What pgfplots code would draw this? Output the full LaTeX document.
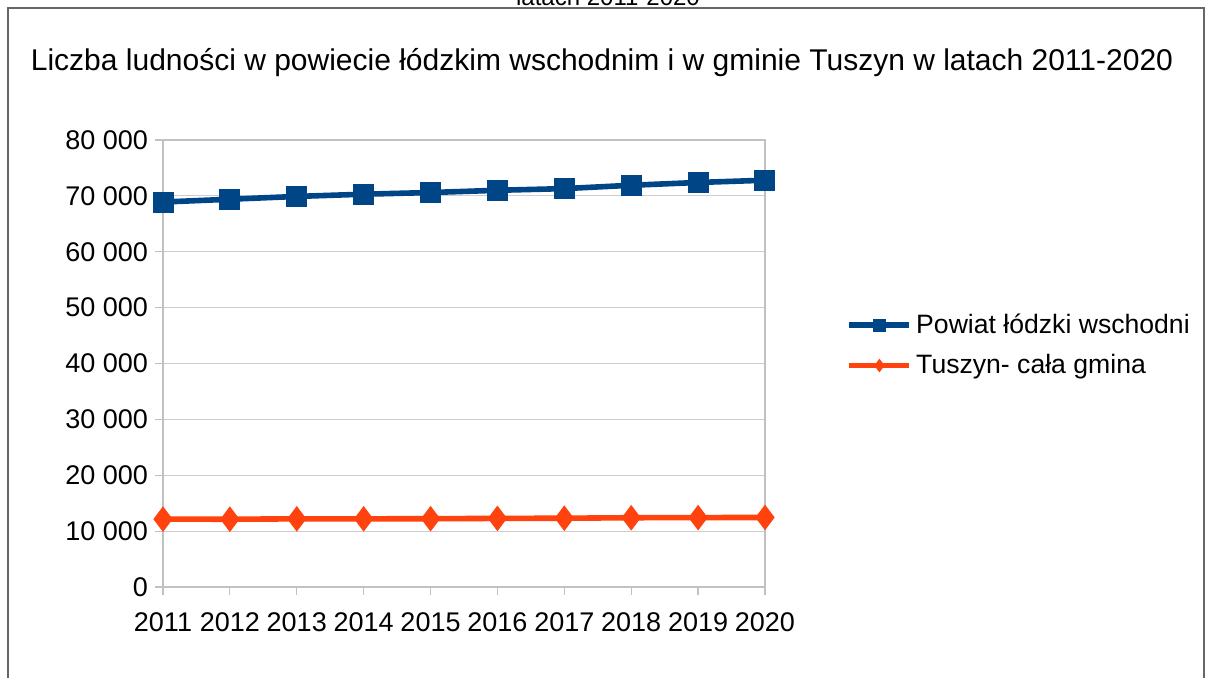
\documentclass[border=0pt]{standalone}
\usepackage{pgfplots}
\pgfplotsset{compat=1.18}
\usepackage{fontspec}
\setmainfont{Liberation Sans}
\definecolor{cblue}{RGB}{0,69,134}
\definecolor{corange}{RGB}{255,66,14}
\definecolor{gridgray}{RGB}{205,205,205}
\begin{document}
\begin{tikzpicture}[x=0.5pt,y=0.5pt]
\useasboundingbox (0,0) rectangle (1206,677);
\begin{scope}
\clip (0,0) rectangle (1206,677);
\draw[gray!80!black, line width=0.6pt] (8,-20) -- (8,669) -- (1204,669) -- (1204,-20);
\node[anchor=base, font=\fontsize{12}{14}\selectfont] at (608,672) {latach 2011-2020};
\end{scope}
\node[anchor=base, font=\fontsize{15}{18}\selectfont] at (602,607) {Liczba ludności w powiecie łódzkim wschodnim i w gminie Tuszyn w latach 2011-2020};
\begin{axis}[
  at={(81.5pt,45pt)}, anchor=south west,
  scale only axis, width=301pt, height=223.5pt,
  xmin=2011, xmax=2020, ymin=0, ymax=80000,
  xtick={2011,...,2020},
  ytick={0,10000,...,80000},
  scaled y ticks=false,
  yticklabels={0,10 000,20 000,30 000,40 000,50 000,60 000,70 000,80 000},
  xticklabel style={/pgf/number format/1000 sep=},
  /pgf/number format/assume math mode=true,
  tick label style={font=\fontsize{13.5}{16}\selectfont},
  ymajorgrids, grid style={gridgray, line width=0.6pt},
  axis line style={gridgray!85!gray, line width=0.6pt},
  tick style={gridgray!85!gray, line width=0.6pt},
  tick align=outside, major tick length=4pt,
  xtick pos=bottom, ytick pos=left,
  xticklabel shift=5.5pt, yticklabel shift=0pt,
  legend style={draw=none, fill=none, at={(1.125,0.63)}, anchor=north west,
    font=\fontsize{13.3}{16}\selectfont, row sep=5pt, legend cell align=left},
  legend image code/.code={\draw[#1, mark size=3pt, mark repeat=2, mark phase=2] plot coordinates {(0pt,0pt) (15pt,0pt) (30pt,0pt)};},
]
\addplot[cblue, line width=2.8pt, mark=square*, mark size=5pt, mark options={solid, line width=0.5pt}] coordinates {
(2011,68900) (2012,69400) (2013,69900) (2014,70300) (2015,70600)
(2016,71000) (2017,71300) (2018,71900) (2019,72400) (2020,72800)};
\addlegendentry{Powiat łódzki wschodni}
\addplot[corange, line width=2.8pt, mark=diamond*, mark size=6pt, mark options={solid, line width=0.5pt}] coordinates {
(2011,12150) (2012,12130) (2013,12200) (2014,12200) (2015,12220)
(2016,12280) (2017,12310) (2018,12400) (2019,12420) (2020,12450)};
\addlegendentry{Tuszyn- cała gmina}
\end{axis}
\end{tikzpicture}
\end{document}
